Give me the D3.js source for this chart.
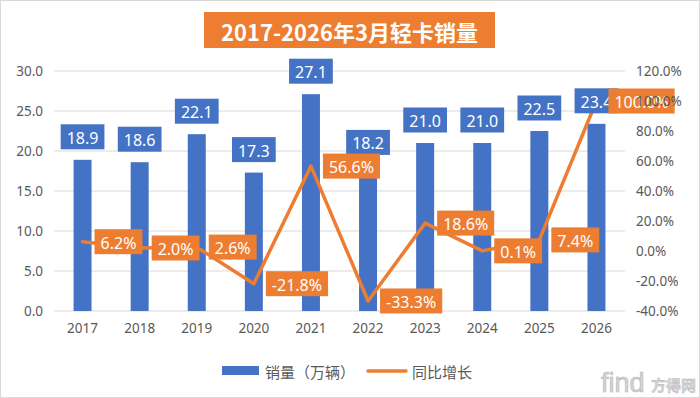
<!DOCTYPE html>
<html>
<head>
<meta charset="utf-8">
<script src="https://cdn.jsdelivr.net/npm/d3@7"></script>
<style>
  body { margin: 0; background: #fff; }
  svg { display: block; }
</style>
</head>
<body>
<svg id="chart"></svg>
<script>
const years = ["2017", "2018", "2019", "2020", "2021", "2022", "2023", "2024", "2025", "2026"];
const sales = [18.9, 18.6, 22.1, 17.3, 27.1, 18.2, 21.0, 21.0, 22.5, 23.4];   // 万辆
const growth = [6.2, 2.0, 2.6, -21.8, 56.6, -33.3, 18.6, 0.1, 7.4, 100.0];   // %
const leftTicks = [0, 5, 10, 15, 20, 25, 30];
const rightTicks = [-40, -20, 0, 20, 40, 60, 80, 100, 120];

const width = 700, height = 398;
const blue = "#4472C4", orange = "#ED7D31", grey = "#595959";
const latin = "'Noto Sans', 'Noto Sans CJK SC', sans-serif";
const cjk = "'Noto Sans CJK SC', 'Noto Sans', sans-serif";

// plain hyphen as minus sign, like the original
const locale = d3.formatLocale({ decimal: ".", thousands: ",", grouping: [3], currency: ["", ""], minus: "-" });
const f1 = locale.format(".1f");
const pct = d => f1(d) + "%";

const svg = d3.select("#chart")
    .attr("width", width)
    .attr("height", height);

// chart border
svg.append("rect")
    .attr("x", 0.5).attr("y", 0.5)
    .attr("width", width - 1).attr("height", height - 1)
    .attr("fill", "#fff")
    .attr("stroke", "#d9d9d9");

const x = d3.scaleBand()
    .domain(years)
    .range([54, 625])
    .paddingInner(0.685)
    .paddingOuter(0.3425);

const yLeft = d3.scaleLinear().domain([0, 30]).range([311, 71]);
const yRight = d3.scaleLinear().domain([-40, 120]).range([311, 71]);

// gridlines
svg.append("g")
    .selectAll("line")
    .data(leftTicks)
    .join("line")
    .attr("x1", 54).attr("x2", 625)
    .attr("y1", d => yLeft(d)).attr("y2", d => yLeft(d))
    .attr("stroke", "#d9d9d9")
    .attr("stroke-width", 1);

// left axis
const leftAxis = svg.append("g")
    .attr("transform", "translate(54,0)")
    .call(d3.axisLeft(yLeft).tickValues(leftTicks).tickFormat(f1).tickSize(0).tickPadding(11));
leftAxis.select(".domain").remove();
leftAxis.selectAll("text")
    .attr("fill", grey)
    .style("font-family", latin)
    .style("font-size", "13.5px");

// x axis
const xAxis = svg.append("g")
    .attr("transform", "translate(0,311)")
    .call(d3.axisBottom(x).tickSize(0).tickPadding(12));
xAxis.select(".domain").remove();
xAxis.selectAll("text")
    .attr("fill", grey)
    .style("font-family", latin)
    .style("font-size", "13.5px");

// bars
svg.append("g")
    .selectAll("rect")
    .data(years)
    .join("rect")
    .attr("x", d => x(d))
    .attr("width", x.bandwidth())
    .attr("y", (d, i) => yLeft(sales[i]))
    .attr("height", (d, i) => yLeft(0) - yLeft(sales[i]))
    .attr("fill", blue);

// growth line
const cx = d => x(d) + x.bandwidth() / 2;
const line = d3.line()
    .x((d, i) => cx(years[i]))
    .y(d => yRight(d));

svg.append("path")
    .datum(growth)
    .attr("d", line)
    .attr("fill", "none")
    .attr("stroke", orange)
    .attr("stroke-width", 3.5)
    .attr("stroke-linejoin", "round")
    .attr("stroke-linecap", "round");

// label helper: box with white text, sized to the text
function boxLabel(g, text, anchorX, centerY, fill, align) {
    const grp = g.append("g");
    const t = grp.append("text")
        .text(text)
        .attr("fill", "#fff")
        .attr("dominant-baseline", "central")
        .style("font-family", latin)
        .style("font-size", "16px");
    const w = t.node().getComputedTextLength() + 12;
    const h = 25;
    const left = align === "middle" ? anchorX - w / 2 : anchorX;
    grp.insert("rect", "text")
        .attr("x", left).attr("y", centerY - h / 2)
        .attr("width", w).attr("height", h)
        .attr("fill", fill);
    t.attr("x", left + 6).attr("y", centerY + 1);
}

// bar labels
const barLabels = svg.append("g");
years.forEach((yr, i) => {
    boxLabel(barLabels, f1(sales[i]), cx(yr), yLeft(sales[i]) - 23, blue, "middle");
});

// line labels
const lineLabels = svg.append("g");
years.forEach((yr, i) => {
    boxLabel(lineLabels, pct(growth[i]), cx(yr) + 12, yRight(growth[i]), orange, "left");
});

// right axis (drawn on top, as in the original)
const rightAxis = svg.append("g")
    .attr("transform", "translate(625,0)")
    .call(d3.axisRight(yRight).tickValues(rightTicks).tickFormat(pct).tickSize(0).tickPadding(11));
rightAxis.select(".domain").remove();
rightAxis.selectAll("text")
    .attr("fill", grey)
    .style("font-family", latin)
    .style("font-size", "13.5px");

// title
const titleG = svg.append("g");
titleG.append("rect")
    .attr("x", 204).attr("y", 12)
    .attr("width", 291).attr("height", 36)
    .attr("fill", orange);
titleG.append("text")
    .attr("x", 349.5).attr("y", 31)
    .attr("text-anchor", "middle")
    .attr("dominant-baseline", "central")
    .attr("fill", "#fff")
    .style("font-family", cjk)
    .style("font-weight", "bold")
    .style("font-size", "22px")
    .text("2017-2026年3月轻卡销量");

// legend
const legend = svg.append("g");
legend.append("rect")
    .attr("x", 222).attr("y", 366)
    .attr("width", 37).attr("height", 9)
    .attr("fill", blue);
legend.append("text")
    .attr("x", 265).attr("y", 371)
    .attr("dominant-baseline", "central")
    .attr("fill", grey)
    .style("font-family", cjk)
    .style("font-size", "15px")
    .text("销量（万辆）");
legend.append("line")
    .attr("x1", 368).attr("x2", 406)
    .attr("y1", 371).attr("y2", 371)
    .attr("stroke", orange)
    .attr("stroke-width", 3.5)
    .attr("stroke-linecap", "round");
legend.append("text")
    .attr("x", 412).attr("y", 371)
    .attr("dominant-baseline", "central")
    .attr("fill", grey)
    .style("font-family", cjk)
    .style("font-size", "15px")
    .text("同比增长");

// watermark
const wm = svg.append("g").attr("opacity", 0.75);
wm.append("text")
    .attr("x", 601).attr("y", 392)
    .attr("fill", "#c8c8c8")
    .attr("stroke", "#9a9a9a")
    .attr("stroke-width", 0.6)
    .style("font-family", "'Liberation Sans', sans-serif")
    .style("font-size", "27px")
    .text("find");
wm.append("text")
    .attr("x", 651).attr("y", 391)
    .attr("fill", "#c8c8c8")
    .attr("stroke", "#9a9a9a")
    .attr("stroke-width", 0.4)
    .style("font-family", cjk)
    .style("font-weight", "bold")
    .style("font-size", "15px")
    .text("方得网");
</script>
</body>
</html>
